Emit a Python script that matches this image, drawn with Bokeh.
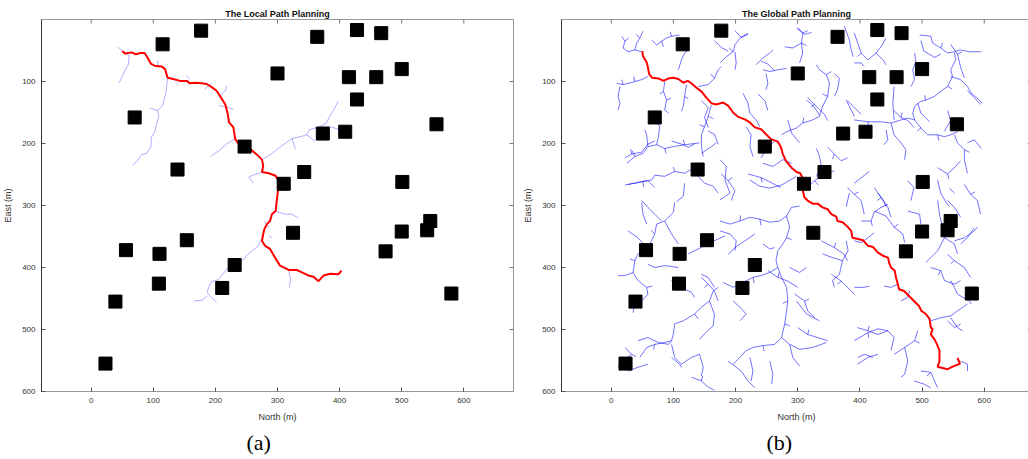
from bokeh.plotting import figure
from bokeh.models import Range1d, FixedTicker, LinearAxis, Title
from bokeh.layouts import row
from bokeh.embed import file_html
from bokeh.resources import INLINE

# ---------------- data ----------------
obs_x = [115, 177, 364, 428, 467, 300, 415, 459, 500, 428, 70, 556, 373, 409, 247, 139, 343, 310, 501, 546,
         325, 500, 541, 56, 110, 154, 474, 231, 109, 211, 580, 39, 23]
obs_y = [40, 18, 28, 17, 22, 87, 93, 93, 80, 129, 158, 169, 184, 181, 205, 242, 246, 265, 262, 325,
         344, 342, 340, 372, 378, 356, 374, 396, 426, 433, 442, 455, 555]

local_path_x = [50, 55, 65, 72, 79, 86, 91, 96, 103, 114, 119, 123, 132, 143, 154, 159, 167, 178, 186, 194,
                202, 209, 216, 220, 222, 229, 232, 237, 245, 256, 267, 275, 277, 275, 286, 297, 303, 301, 299, 297,
                291, 288, 283, 279, 277, 275, 280, 288, 296, 304, 318, 331, 342, 350, 358, 366, 374, 385, 398, 403]
local_path_y = [51, 55, 53, 56, 54, 54, 62, 71, 75, 76, 80, 94, 96, 99, 99, 103, 102, 103, 104, 109,
                115, 126, 137, 153, 166, 174, 193, 200, 200, 209, 218, 226, 236, 246, 248, 252, 263, 274, 290, 309,
                314, 325, 330, 338, 346, 357, 365, 370, 384, 397, 404, 404, 409, 413, 415, 422, 413, 410, 411, 405]

local_tree = [
    [(43, 44), (50, 51)],
    [(57, 54), (61, 59), (60, 72), (54, 83), (49, 94), (45, 102)],
    [(123, 94), (122, 104), (120, 120), (115, 139), (107, 147), (109, 155), (105, 170), (102, 182), (97, 190),
     (96, 206), (89, 216), (81, 218), (75, 227), (67, 235)],
    [(95, 143), (107, 147)],
    [(107, 66), (108, 76)],
    [(154, 91), (159, 96)],
    [(183, 112), (194, 103)],
    [(205, 126), (216, 115), (218, 107)],
    [(205, 139), (218, 141), (229, 145)],
    [(231, 193), (218, 201), (205, 212), (192, 221)],
    [(277, 225), (291, 216), (304, 206), (323, 192), (337, 189), (347, 186), (351, 178), (364, 174), (378, 168),
     (383, 158), (388, 150), (393, 141), (398, 132)],
    [(347, 186), (361, 197)],
    [(323, 192), (329, 209)],
    [(364, 174), (385, 173), (398, 177), (417, 182)],
    [(275, 246), (261, 251), (254, 254), (261, 264)],
    [(297, 309), (312, 314), (323, 314), (333, 320)],
    [(279, 325), (286, 335)],
    [(277, 349), (269, 365), (261, 372), (252, 379), (244, 388), (232, 395), (220, 401), (210, 413), (204, 420),
     (194, 423), (189, 432), (187, 440), (194, 449), (202, 456)],
    [(187, 446), (178, 453), (165, 454)],
    [(286, 349), (291, 352)],
    [(318, 404), (321, 419), (319, 432)],
]

global_path_x = [50, 51, 57, 59, 61, 66, 76, 84, 92, 100, 108, 116, 123, 128, 137, 145, 153, 161, 169, 180,
                 188, 196, 204, 215, 223, 231, 241, 249, 257, 268, 273, 276, 281, 290, 298, 304, 310, 312, 308, 311,
                 316, 324, 332, 340, 348, 354, 362, 364, 372, 380, 386, 388, 397, 405, 413, 421, 429, 437, 445, 447,
                 450, 456, 458, 461, 463, 471, 479, 487, 495, 499, 506, 512, 514, 517, 514, 520, 524, 528, 528, 525,
                 533, 541, 551, 561, 557]
global_path_y = [51, 59, 69, 77, 88, 94, 95, 99, 95, 94, 96, 102, 99, 102, 110, 116, 126, 135, 137, 134,
                 139, 150, 157, 161, 166, 174, 177, 185, 193, 197, 206, 217, 228, 239, 246, 248, 260, 266, 276, 287,
                 292, 297, 297, 303, 306, 314, 318, 325, 327, 334, 341, 352, 354, 356, 365, 367, 376, 381, 384, 392,
                 400, 405, 416, 427, 435, 438, 446, 454, 462, 470, 475, 483, 497, 499, 508, 516, 524, 534, 551, 560,
                 562, 564, 559, 555, 546]

global_tree = [
    [(17, 27), (22, 35), (19, 46), (27, 52), (38, 49), (49, 52)],
    [(38, 49), (41, 38), (46, 30), (51, 19)],
    [(65, 33), (73, 41), (81, 35), (89, 30), (97, 27), (110, 25)],
    [(9, 103), (19, 105), (27, 103), (38, 100), (49, 97), (59, 92)],
    [(14, 108), (11, 124), (14, 135), (11, 146)],
    [(86, 100), (84, 116), (89, 130), (86, 146), (92, 151)],
    [(121, 105), (118, 124), (116, 140), (113, 148)],
    [(108, 81), (113, 65), (118, 54), (124, 49)],
    [(140, 108), (156, 105), (166, 95), (172, 81), (177, 76)],
    [(161, 138), (156, 156), (150, 173), (145, 186), (145, 205), (148, 221)],
    [(25, 232), (38, 221), (51, 216), (59, 205), (57, 186), (54, 178)],
    [(59, 205), (73, 202), (86, 208), (100, 205), (118, 202), (142, 199)],
    [(73, 202), (76, 189), (78, 173), (73, 165)],
    [(22, 267), (38, 264), (51, 261), (65, 259), (70, 251), (86, 253), (102, 245), (118, 248), (129, 242)],
    [(140, 253), (150, 264), (164, 269), (172, 280)],
    [(118, 264), (116, 285), (105, 294)],
    [(145, 216), (161, 205), (169, 199)],
    [(175, 70), (185, 60), (196, 52), (199, 41), (207, 30), (220, 22)],
    [(199, 52), (201, 70), (199, 81)],
    [(233, 73), (244, 62), (255, 54), (260, 49)],
    [(244, 81), (255, 84), (268, 81), (282, 79)],
    [(249, 87), (252, 103), (249, 113)],
    [(298, 14), (308, 22), (306, 38), (308, 54), (303, 70)],
    [(279, 44), (292, 46), (306, 38)],
    [(375, 11), (383, 33), (386, 49), (389, 60)],
    [(330, 73), (335, 81), (346, 89), (351, 103), (348, 124), (340, 140), (335, 156), (324, 162), (308, 167),
     (298, 175), (282, 181), (274, 186)],
    [(314, 130), (324, 138), (335, 154)],
    [(359, 87), (367, 95), (364, 113), (359, 124)],
    [(378, 130), (386, 146), (391, 156)],
    [(212, 119), (220, 135), (223, 151), (233, 162), (239, 173)],
    [(284, 162), (290, 183), (303, 199)],
    [(223, 259), (239, 269), (255, 272), (274, 267), (298, 253)],
    [(244, 232), (260, 237), (276, 226), (290, 232)],
    [(330, 208), (335, 221), (338, 237), (330, 253)],
    [(383, 280), (378, 302)],
    [(175, 226), (185, 237), (183, 259), (191, 280), (175, 291)],
    [(217, 173), (225, 186), (223, 205), (228, 221)],
    [(391, 22), (402, 54), (413, 65), (426, 54), (434, 44), (442, 30)],
    [(426, 54), (437, 65), (442, 73)],
    [(391, 70), (402, 70), (407, 76)],
    [(496, 25), (514, 27), (517, 38), (530, 46), (541, 54), (552, 52), (562, 49), (576, 52), (595, 52)],
    [(552, 54), (554, 65), (546, 81), (549, 92), (541, 108), (530, 116), (520, 124), (506, 130), (498, 132),
     (488, 140), (485, 151), (488, 162)],
    [(546, 92), (562, 97), (573, 108), (579, 119), (589, 127), (597, 135)],
    [(488, 54), (490, 68), (485, 81), (488, 97), (482, 108)],
    [(391, 162), (413, 165), (434, 165), (450, 167), (466, 162), (477, 159), (488, 162), (498, 175), (509, 186),
     (525, 186), (536, 189), (546, 186), (557, 181)],
    [(455, 108), (453, 135), (455, 162)],
    [(450, 167), (455, 186), (466, 199), (474, 210), (472, 226)],
    [(442, 178), (445, 194), (439, 202)],
    [(552, 186), (557, 199), (568, 210), (568, 226), (573, 248)],
    [(573, 199), (584, 194), (595, 208)],
    [(493, 135), (498, 151), (512, 165)],
    [(391, 264), (405, 253), (415, 245)],
    [(429, 280), (437, 291), (442, 302)],
    [(525, 259), (530, 280), (538, 294), (544, 302)],
    [(544, 272), (552, 280)],
    [(49, 295), (51, 314), (57, 330)],
    [(27, 341), (43, 352), (57, 368)],
    [(57, 373), (70, 346), (73, 330), (86, 325), (100, 311), (102, 295)],
    [(86, 325), (97, 346), (108, 362)],
    [(57, 373), (43, 378), (38, 389), (35, 408), (22, 413), (11, 413)],
    [(35, 408), (43, 421), (57, 432), (59, 443), (49, 454), (38, 459), (35, 473)],
    [(59, 395), (70, 400), (86, 397), (108, 400)],
    [(124, 378), (140, 370), (156, 362), (172, 354), (183, 349)],
    [(46, 545), (57, 529), (70, 524), (86, 521), (97, 518), (100, 507), (102, 491), (116, 486), (134, 475),
     (145, 464), (158, 454), (164, 438), (172, 432)],
    [(97, 524), (102, 545), (113, 556), (129, 545), (142, 540), (148, 561), (145, 575)],
    [(158, 454), (166, 475), (164, 494), (150, 507), (142, 516)],
    [(145, 411), (156, 416), (166, 432)],
    [(97, 421), (108, 427), (118, 435), (129, 440), (134, 448)],
    [(175, 325), (191, 330), (207, 325), (223, 319), (239, 322), (255, 327), (271, 325), (282, 317), (290, 303),
     (303, 301)],
    [(282, 317), (287, 335), (282, 352), (276, 362), (268, 373), (265, 389), (268, 400), (255, 408), (241, 413),
     (228, 416), (212, 424), (196, 432), (180, 424)],
    [(268, 400), (274, 416), (282, 432), (284, 454), (282, 470), (279, 491), (274, 513), (263, 524), (244, 526),
     (228, 529), (217, 534), (207, 545), (196, 556)],
    [(274, 513), (287, 524), (303, 532), (324, 529), (346, 521)],
    [(287, 524), (292, 545), (303, 559)],
    [(255, 551), (260, 572), (258, 588)],
    [(223, 545), (228, 567), (225, 583)],
    [(298, 454), (314, 475), (335, 486)],
    [(287, 400), (303, 408), (314, 400)],
    [(244, 362), (255, 370), (263, 368)],
    [(175, 341), (191, 346), (201, 357), (199, 373)],
    [(196, 454), (207, 464), (217, 475), (207, 486)],
    [(340, 378), (356, 384), (372, 389), (381, 373), (378, 357)],
    [(372, 389), (367, 411), (356, 421), (359, 432)],
    [(402, 325), (418, 325), (423, 311), (434, 303), (445, 298)],
    [(423, 309), (442, 317), (455, 335), (469, 346), (472, 360)],
    [(477, 309), (496, 314), (498, 330)],
    [(525, 292), (528, 314), (533, 335), (536, 352), (525, 373), (517, 381), (506, 392)],
    [(552, 357), (568, 352), (584, 341), (589, 335)],
    [(536, 352), (552, 362), (557, 378)],
    [(514, 400), (530, 405), (536, 421), (552, 427), (562, 421)],
    [(546, 421), (552, 432), (557, 443), (576, 454), (579, 459)],
    [(514, 486), (530, 481), (546, 478), (557, 470), (573, 459)],
    [(546, 481), (557, 497), (565, 502)],
    [(391, 357), (402, 360), (413, 352), (423, 344)],
    [(391, 432), (407, 432), (415, 430)],
    [(439, 430), (450, 432), (461, 427)],
    [(466, 454), (477, 448), (480, 438)],
    [(391, 518), (413, 505), (429, 499), (445, 502), (455, 513), (450, 534)],
    [(455, 540), (472, 529), (488, 518), (493, 502)],
    [(472, 529), (477, 551), (472, 572), (466, 577)],
    [(498, 567), (514, 569), (520, 583), (525, 594)],
    [(562, 551), (573, 556), (573, 567)],
    [(397, 545), (407, 540), (421, 545)],
    [(188, 551), (209, 567), (220, 583), (231, 594)],
    [(43, 518), (59, 513), (76, 521), (92, 524), (97, 518)],
    [(97, 545), (110, 556), (113, 561)],
    # additional branches
    [(22, 223), (33, 217), (49, 214), (59, 201), (70, 196)],
    [(27, 266), (43, 263), (59, 260), (70, 271)],
    [(49, 292), (59, 303), (70, 314), (81, 325)],
    [(97, 196), (113, 201), (124, 206), (134, 201)],
    [(145, 131), (156, 142), (150, 158), (156, 174)],
    [(156, 180), (166, 185), (172, 201)],
    [(177, 249), (188, 260), (199, 276), (193, 292)],
    [(220, 249), (241, 255), (257, 263), (273, 271)],
    [(241, 223), (252, 206), (263, 196)],
    [(316, 271), (327, 260), (343, 249), (359, 244)],
    [(348, 206), (359, 217), (370, 228), (380, 223)],
    [(380, 271), (391, 282), (402, 292), (407, 314)],
    [(423, 271), (434, 287), (445, 303), (450, 319)],
    [(477, 260), (487, 271), (482, 292)],
    [(525, 239), (541, 249), (552, 239), (562, 228)],
    [(568, 266), (578, 282), (589, 292), (594, 314)],
    [(541, 292), (552, 303), (562, 319)],
    [(498, 34), (503, 51), (520, 61), (530, 56)],
    [(546, 40), (557, 56), (562, 77), (568, 94)],
    [(573, 115), (584, 126), (594, 137)],
    [(541, 147), (546, 163), (536, 180)],
    [(455, 147), (466, 158), (477, 163), (487, 174)],
    [(380, 131), (391, 142), (402, 153)],
    [(316, 126), (327, 137), (343, 153), (348, 163)],
    [(241, 67), (252, 72), (263, 83)],
    [(166, 34), (177, 45), (188, 51)],
    [(199, 18), (209, 29), (220, 24)],
    [(300, 13), (311, 24), (322, 21)],
    [(236, 120), (247, 131), (252, 147)],
    [(22, 529), (33, 540), (17, 551), (11, 561)],
    [(27, 567), (43, 561), (59, 556)],
    [(129, 577), (145, 583), (156, 593), (166, 598)],
    [(145, 416), (156, 427), (166, 438), (172, 454)],
    [(188, 379), (199, 368), (215, 357), (231, 346)],
    [(252, 405), (268, 416), (284, 422), (300, 432)],
    [(295, 443), (311, 454), (316, 470), (327, 481)],
    [(300, 497), (316, 508), (332, 513), (348, 518)],
    [(338, 357), (359, 368), (375, 379), (380, 389)],
    [(354, 411), (370, 422), (380, 432), (391, 443)],
    [(396, 497), (413, 502), (429, 508), (445, 502)],
    [(396, 556), (413, 545), (429, 540)],
    [(541, 379), (552, 389), (568, 400), (578, 416)],
    [(584, 336), (573, 352), (562, 362)],
    [(541, 486), (552, 497), (562, 491)],
    [(487, 583), (503, 588), (514, 594)],
]

global_twigs = [
    [(22, 35), (28, 30)], [(46, 30), (40, 24)], [(81, 35), (84, 44)], [(97, 27), (95, 20)], [(19, 105), (17, 97)],
    [(38, 100), (36, 92)], [(84, 116), (78, 120)], [(89, 130), (96, 127)], [(118, 124), (124, 128)],
    [(166, 95), (160, 88)], [(156, 156), (164, 160)], [(150, 173), (142, 170)], [(38, 221), (34, 212)],
    [(86, 208), (88, 216)], [(118, 202), (116, 194)], [(51, 261), (52, 270)], [(102, 245), (100, 238)],
    [(196, 52), (190, 46)], [(308, 22), (316, 18)], [(306, 38), (314, 42)], [(346, 89), (354, 84)],
    [(348, 124), (340, 120)], [(308, 167), (310, 158)], [(402, 54), (396, 60)], [(530, 46), (533, 38)],
    [(541, 108), (548, 112)], [(506, 130), (504, 122)], [(413, 165), (414, 173)], [(498, 175), (492, 180)],
    [(525, 186), (527, 195)], [(568, 210), (576, 214)], [(70, 346), (64, 340)], [(38, 389), (30, 386)],
    [(57, 432), (66, 430)], [(70, 524), (68, 532)], [(134, 475), (140, 483)], [(207, 325), (208, 316)],
    [(239, 322), (241, 332)], [(282, 352), (290, 355)], [(228, 416), (230, 425)], [(284, 454), (276, 458)],
    [(279, 491), (287, 494)], [(244, 526), (246, 535)], [(418, 325), (420, 333)], [(455, 335), (462, 330)],
    [(533, 335), (541, 332)], [(530, 405), (526, 412)], [(413, 505), (414, 513)], [(488, 518), (496, 522)],
    [(514, 569), (508, 575)], [(33, 217), (31, 209)], [(188, 260), (195, 255)], [(241, 255), (243, 263)],
    [(327, 260), (333, 267)], [(359, 217), (356, 225)], [(391, 282), (398, 278)], [(434, 287), (428, 292)],
    [(541, 249), (543, 257)], [(578, 282), (585, 278)], [(557, 56), (564, 52)], [(466, 158), (468, 150)],
    [(327, 137), (321, 141)], [(156, 427), (150, 432)], [(268, 416), (270, 408)], [(311, 454), (318, 451)],
    [(316, 508), (318, 500)], [(359, 368), (361, 360)], [(370, 422), (364, 427)], [(413, 502), (415, 494)],
    [(552, 389), (546, 394)], [(33, 540), (40, 544)], [(145, 583), (147, 575)],
]

x_ticks = [0, 100, 200, 300, 400, 500, 600]
y_ticks = [100, 200, 300, 400, 500, 600]

FONT = "Liberation Sans"


def make_panel(title, caption, xmax, b_left, frame_w, b_right, tree, path_x, path_y,
               tree_color, tree_alpha):
    p = figure(frame_width=frame_w, frame_height=372, min_border_left=b_left, min_border_right=b_right,
               min_border_top=19, min_border_bottom=68,
               x_range=Range1d(-80, xmax), y_range=Range1d(600, 0),
               output_backend="svg", toolbar_location=None, x_axis_location=None, y_axis_location=None)
    p.title = Title(text=title, align="center", text_font=FONT, text_font_size="9px",
                    text_font_style="bold", text_color="#111111", standoff=2)
    p.grid.visible = False
    p.outline_line_color = "#999999"
    p.outline_line_width = 1
    p.background_fill_color = "white"
    p.border_fill_color = "white"

    xb = LinearAxis(ticker=FixedTicker(ticks=x_ticks), axis_label="North (m)")
    yl = LinearAxis(ticker=FixedTicker(ticks=y_ticks), axis_label="East (m)")
    for ax, col in [(xb, "#999999"), (yl, "#333333")]:
        ax.axis_line_color = col
        ax.major_tick_line_color = "#555555"
        ax.major_tick_in = 4
        ax.major_tick_out = 0
        ax.minor_tick_line_color = None
        ax.major_label_text_font = FONT
        ax.major_label_text_font_size = "8px"
        ax.major_label_text_color = "#333333"
        ax.major_label_standoff = 6
        ax.axis_label_text_font = FONT
        ax.axis_label_text_font_size = "9px"
        ax.axis_label_text_font_style = "normal"
        ax.axis_label_text_color = "#333333"
        ax.axis_label_standoff = 6
    p.add_layout(xb, "below")
    p.add_layout(yl, "left")

    # mirrored inward ticks on the top and right edges of the box
    p.segment(x0=x_ticks, y0=[0] * len(x_ticks), x1=x_ticks, y1=[6.5] * len(x_ticks),
              line_color="#777777", line_width=1)
    p.segment(x0=[xmax] * len(y_ticks), y0=y_ticks, x1=[xmax - 6.5] * len(y_ticks), y1=y_ticks,
              line_color="#777777", line_width=1)

    p.add_layout(Title(text=caption, align="left", offset=205, text_font="Liberation Serif",
                       text_font_size="22px", text_font_style="normal", text_color="black", standoff=6), "below")

    xs = [[pt[0] for pt in br] for br in tree]
    ys = [[pt[1] for pt in br] for br in tree]
    p.multi_line(xs, ys, line_color=tree_color, line_alpha=tree_alpha, line_width=0.8)
    p.line(path_x, path_y, line_color="#ff0000", line_width=2)
    p.rect(obs_x, obs_y, width=21, height=21, fill_color="black", line_color="black")
    return p


left = make_panel("The Local Path Planning", "(a)", 680, 37, 472, 6, local_tree,
                  local_path_x, local_path_y, "#5555ff", 0.6)
right = make_panel("The Global Path Planning", "(b)", 676, 42, 470, 0, global_tree + global_twigs,
                   global_path_x, global_path_y, "#0000ff", 0.7)

layout = row(left, right)
open("out.html", "w").write(file_html(layout, INLINE))
